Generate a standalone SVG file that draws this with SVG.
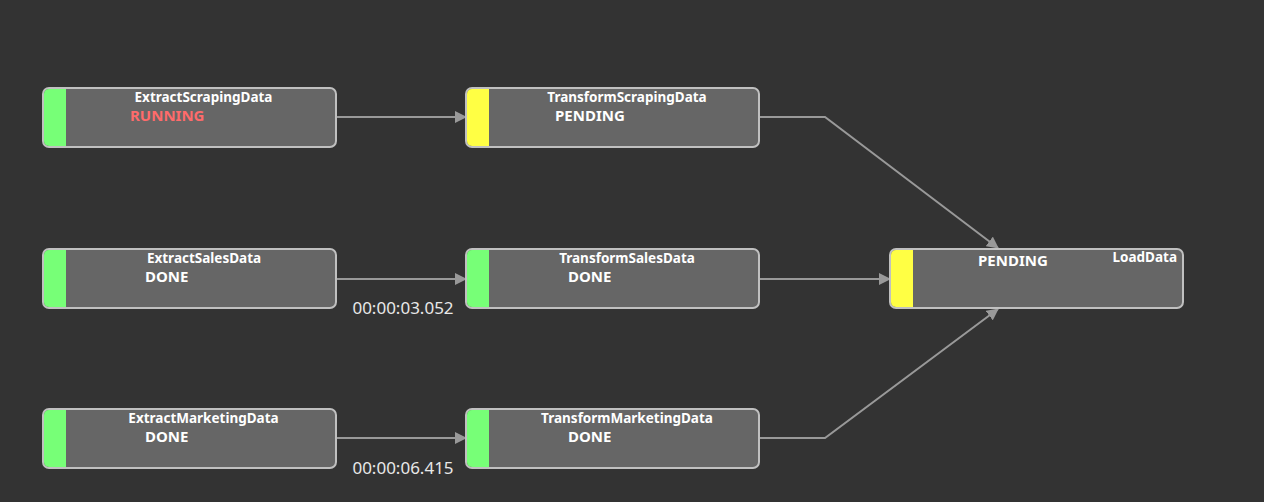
<svg xmlns="http://www.w3.org/2000/svg" width="1264" height="502" viewBox="0 0 1264 502">
<style>
.box{fill:#666666;stroke:#c0c0c0;stroke-width:2}
.g{fill:#77ff77}
.y{fill:#ffff44}
.title{font-family:"Noto Sans","Open Sans",sans-serif;font-weight:bold;font-size:13.5px;fill:#ffffff}
.st{font-family:"Noto Sans","Open Sans",sans-serif;font-weight:bold;font-size:15px;fill:#ffffff}
.run{fill:#ff6b6b}
.edge{fill:none;stroke:#999999;stroke-width:2}
.time{font-family:"Noto Sans","Open Sans",sans-serif;font-size:17px;fill:#e8e8e8}
</style>
<defs>
<marker id="arr" viewBox="0 0 12 12" refX="11" refY="6" markerWidth="12" markerHeight="12" markerUnits="userSpaceOnUse" orient="auto">
<path d="M0,0 L12,6 L0,12 Z" fill="#999999"/>
</marker>
</defs>
<rect width="1264" height="502" fill="#333333"/>
<g id="connectors">
<path class="edge" d="M336,117 H466" marker-end="url(#arr)"/>
<path class="edge" d="M336,279 H466" marker-end="url(#arr)"/>
<path class="edge" d="M336,438 H466" marker-end="url(#arr)"/>
<path class="edge" d="M759,117 H825 L998,248" marker-end="url(#arr)"/>
<path class="edge" d="M759,279 H890" marker-end="url(#arr)"/>
<path class="edge" d="M759,438 H825 L998,309" marker-end="url(#arr)"/>
<text class="time" x="403" y="314" text-anchor="middle">00:00:03.052</text>
<text class="time" x="403" y="474" text-anchor="middle">00:00:06.415</text>
</g>
<g id="ExtractScrapingData">
<rect class="box" x="43" y="88" width="293" height="59" rx="6"/>
<path class="g" d="M66,89 H49 A5,5 0 0 0 44,94 V141 A5,5 0 0 0 49,146 H66 Z"/>
<text class="title" x="203.5" y="102" text-anchor="middle">ExtractScrapingData</text>
<text class="st run" x="130" y="121">RUNNING</text>
</g>
<g id="TransformScrapingData">
<rect class="box" x="466" y="88" width="293" height="59" rx="6"/>
<path class="y" d="M489,89 H472 A5,5 0 0 0 467,94 V141 A5,5 0 0 0 472,146 H489 Z"/>
<text class="title" x="627" y="102" text-anchor="middle">TransformScrapingData</text>
<text class="st" x="555" y="121">PENDING</text>
</g>
<g id="ExtractSalesData">
<rect class="box" x="43" y="249" width="293" height="59" rx="6"/>
<path class="g" d="M66,250 H49 A5,5 0 0 0 44,255 V302 A5,5 0 0 0 49,307 H66 Z"/>
<text class="title" x="204" y="263" text-anchor="middle">ExtractSalesData</text>
<text class="st" x="145" y="282">DONE</text>
</g>
<g id="TransformSalesData">
<rect class="box" x="466" y="249" width="293" height="59" rx="6"/>
<path class="g" d="M489,250 H472 A5,5 0 0 0 467,255 V302 A5,5 0 0 0 472,307 H489 Z"/>
<text class="title" x="627" y="263" text-anchor="middle">TransformSalesData</text>
<text class="st" x="568" y="282">DONE</text>
</g>
<g id="LoadData">
<rect class="box" x="890" y="249" width="293" height="59" rx="6"/>
<path class="y" d="M913,250 H896 A5,5 0 0 0 891,255 V302 A5,5 0 0 0 896,307 H913 Z"/>
<text class="title" x="1177" y="262" text-anchor="end">LoadData</text>
<text class="st" x="978" y="266">PENDING</text>
</g>
<g id="ExtractMarketingData">
<rect class="box" x="43" y="409" width="293" height="59" rx="6"/>
<path class="g" d="M66,410 H49 A5,5 0 0 0 44,415 V462 A5,5 0 0 0 49,467 H66 Z"/>
<text class="title" x="203.5" y="423" text-anchor="middle">ExtractMarketingData</text>
<text class="st" x="145" y="442">DONE</text>
</g>
<g id="TransformMarketingData">
<rect class="box" x="466" y="409" width="293" height="59" rx="6"/>
<path class="g" d="M489,410 H472 A5,5 0 0 0 467,415 V462 A5,5 0 0 0 472,467 H489 Z"/>
<text class="title" x="627" y="423" text-anchor="middle">TransformMarketingData</text>
<text class="st" x="568" y="442">DONE</text>
</g>
</svg>
